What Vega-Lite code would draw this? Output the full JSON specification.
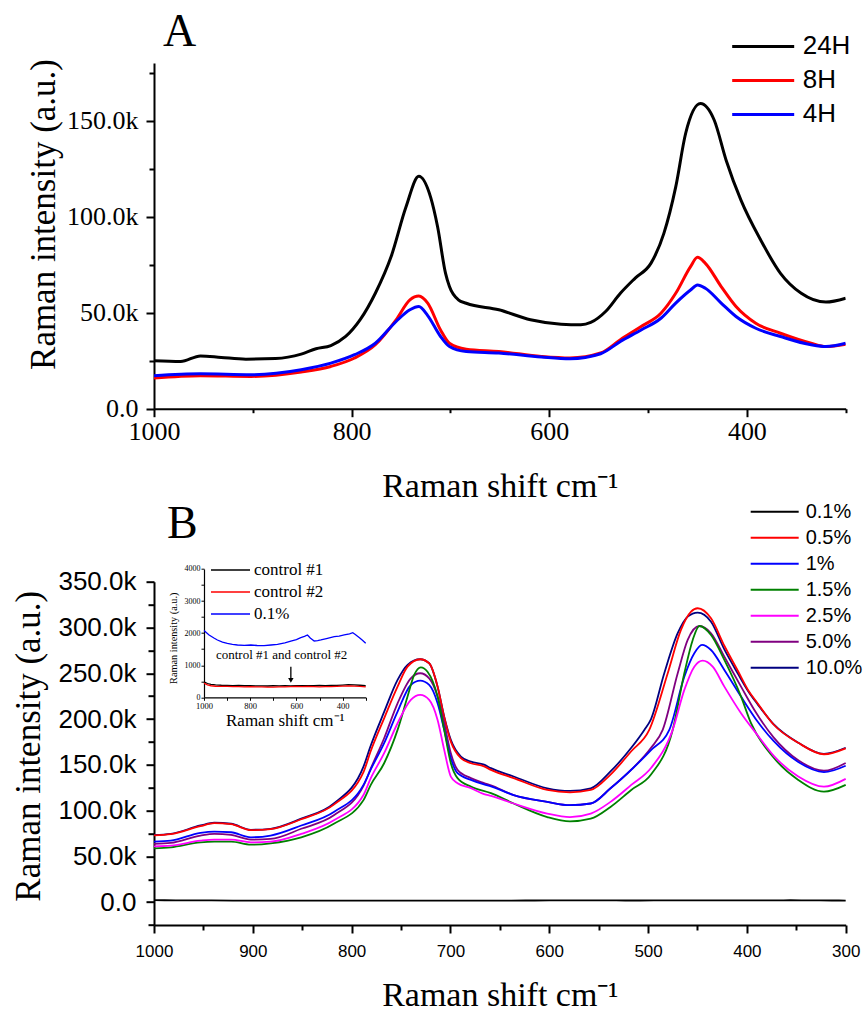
{
  "$schema": "https://vega.github.io/schema/vega-lite/v6.json",
  "background": "white",
  "padding": {"left": 11, "top": 8, "right": 0, "bottom": 0},
  "bounds": "flush",
  "spacing": 172.7,
  "config": {
    "view": {"stroke": null},
    "axis": {"grid": false, "domainColor": "black", "tickColor": "black", "labelColor": "black", "titleColor": "black", "domainWidth": 2, "tickWidth": 2, "titleFontWeight": "normal", "labelFlush": false, "labelOverlap": false, "labelBound": false},
    "legend": {"padding": 0, "rowPadding": 0, "labelColor": "black", "title": null}
  },
  "datasets": {
    "a": [
      {"shift": 1000, "intensity": 25000, "sample": "24H"}, {"shift": 973, "intensity": 24600, "sample": "24H"}, {"shift": 953, "intensity": 27500, "sample": "24H"}, {"shift": 932, "intensity": 26700, "sample": "24H"}, {"shift": 907, "intensity": 25800, "sample": "24H"}, {"shift": 877, "intensity": 26100, "sample": "24H"}, {"shift": 851, "intensity": 28400, "sample": "24H"}, {"shift": 836, "intensity": 31200, "sample": "24H"}, {"shift": 821, "intensity": 32900, "sample": "24H"}, {"shift": 806, "intensity": 37600, "sample": "24H"}, {"shift": 791, "intensity": 46600, "sample": "24H"}, {"shift": 776, "intensity": 60100, "sample": "24H"}, {"shift": 760, "intensity": 79200, "sample": "24H"}, {"shift": 745, "intensity": 105000, "sample": "24H"}, {"shift": 732, "intensity": 121000, "sample": "24H"}, {"shift": 720, "intensity": 110000, "sample": "24H"}, {"shift": 713, "intensity": 94700, "sample": "24H"}, {"shift": 705, "intensity": 70600, "sample": "24H"}, {"shift": 701, "intensity": 63600, "sample": "24H"}, {"shift": 692, "intensity": 56700, "sample": "24H"}, {"shift": 684, "intensity": 54900, "sample": "24H"}, {"shift": 651, "intensity": 51500, "sample": "24H"}, {"shift": 619, "intensity": 46300, "sample": "24H"}, {"shift": 588, "intensity": 44000, "sample": "24H"}, {"shift": 568, "intensity": 43700, "sample": "24H"}, {"shift": 558, "intensity": 44900, "sample": "24H"}, {"shift": 543, "intensity": 50600, "sample": "24H"}, {"shift": 528, "intensity": 60100, "sample": "24H"}, {"shift": 513, "intensity": 68000, "sample": "24H"}, {"shift": 497, "intensity": 75800, "sample": "24H"}, {"shift": 484, "intensity": 91300, "sample": "24H"}, {"shift": 472, "intensity": 115500, "sample": "24H"}, {"shift": 462, "intensity": 143300, "sample": "24H"}, {"shift": 447, "intensity": 158900, "sample": "24H"}, {"shift": 433, "intensity": 150200, "sample": "24H"}, {"shift": 421, "intensity": 129400, "sample": "24H"}, {"shift": 406, "intensity": 108600, "sample": "24H"}, {"shift": 386, "intensity": 87800, "sample": "24H"}, {"shift": 366, "intensity": 70500, "sample": "24H"}, {"shift": 345, "intensity": 60100, "sample": "24H"}, {"shift": 320, "intensity": 55500, "sample": "24H"}, {"shift": 300, "intensity": 57500, "sample": "24H"},
      {"shift": 1000, "intensity": 16000, "sample": "8H"}, {"shift": 953, "intensity": 17200, "sample": "8H"}, {"shift": 902, "intensity": 16800, "sample": "8H"}, {"shift": 851, "intensity": 19100, "sample": "8H"}, {"shift": 821, "intensity": 22000, "sample": "8H"}, {"shift": 797, "intensity": 26400, "sample": "8H"}, {"shift": 776, "intensity": 33300, "sample": "8H"}, {"shift": 755, "intensity": 46300, "sample": "8H"}, {"shift": 741, "intensity": 56700, "sample": "8H"}, {"shift": 732, "intensity": 58700, "sample": "8H"}, {"shift": 723, "intensity": 55000, "sample": "8H"}, {"shift": 710, "intensity": 41000, "sample": "8H"}, {"shift": 701, "intensity": 34100, "sample": "8H"}, {"shift": 684, "intensity": 31000, "sample": "8H"}, {"shift": 651, "intensity": 29800, "sample": "8H"}, {"shift": 608, "intensity": 27200, "sample": "8H"}, {"shift": 579, "intensity": 26400, "sample": "8H"}, {"shift": 548, "intensity": 29000, "sample": "8H"}, {"shift": 528, "intensity": 35900, "sample": "8H"}, {"shift": 507, "intensity": 42800, "sample": "8H"}, {"shift": 487, "intensity": 49700, "sample": "8H"}, {"shift": 472, "intensity": 60100, "sample": "8H"}, {"shift": 457, "intensity": 74000, "sample": "8H"}, {"shift": 450, "intensity": 78800, "sample": "8H"}, {"shift": 442, "intensity": 75700, "sample": "8H"}, {"shift": 426, "intensity": 63600, "sample": "8H"}, {"shift": 411, "intensity": 53200, "sample": "8H"}, {"shift": 391, "intensity": 44500, "sample": "8H"}, {"shift": 366, "intensity": 39300, "sample": "8H"}, {"shift": 335, "intensity": 34100, "sample": "8H"}, {"shift": 320, "intensity": 32400, "sample": "8H"}, {"shift": 300, "intensity": 33600, "sample": "8H"},
      {"shift": 1000, "intensity": 17200, "sample": "4H"}, {"shift": 953, "intensity": 18200, "sample": "4H"}, {"shift": 902, "intensity": 17700, "sample": "4H"}, {"shift": 851, "intensity": 20300, "sample": "4H"}, {"shift": 821, "intensity": 23700, "sample": "4H"}, {"shift": 797, "intensity": 28100, "sample": "4H"}, {"shift": 776, "intensity": 34100, "sample": "4H"}, {"shift": 755, "intensity": 45400, "sample": "4H"}, {"shift": 741, "intensity": 51500, "sample": "4H"}, {"shift": 732, "intensity": 53200, "sample": "4H"}, {"shift": 723, "intensity": 48500, "sample": "4H"}, {"shift": 710, "intensity": 37600, "sample": "4H"}, {"shift": 701, "intensity": 32400, "sample": "4H"}, {"shift": 684, "intensity": 29800, "sample": "4H"}, {"shift": 651, "intensity": 29000, "sample": "4H"}, {"shift": 608, "intensity": 26900, "sample": "4H"}, {"shift": 579, "intensity": 26000, "sample": "4H"}, {"shift": 548, "intensity": 28600, "sample": "4H"}, {"shift": 528, "intensity": 35000, "sample": "4H"}, {"shift": 507, "intensity": 41000, "sample": "4H"}, {"shift": 487, "intensity": 47100, "sample": "4H"}, {"shift": 472, "intensity": 55000, "sample": "4H"}, {"shift": 457, "intensity": 61800, "sample": "4H"}, {"shift": 450, "intensity": 64400, "sample": "4H"}, {"shift": 442, "intensity": 62700, "sample": "4H"}, {"shift": 426, "intensity": 55000, "sample": "4H"}, {"shift": 411, "intensity": 48000, "sample": "4H"}, {"shift": 391, "intensity": 41900, "sample": "4H"}, {"shift": 366, "intensity": 37600, "sample": "4H"}, {"shift": 335, "intensity": 33300, "sample": "4H"}, {"shift": 320, "intensity": 32400, "sample": "4H"}, {"shift": 300, "intensity": 34100, "sample": "4H"}
    ],
    "b": [
      {"shift": 1000, "intensity": 73400, "sample": "10.0%"}, {"shift": 983, "intensity": 74600, "sample": "10.0%"}, {"shift": 953, "intensity": 83700, "sample": "10.0%"}, {"shift": 939, "intensity": 86700, "sample": "10.0%"}, {"shift": 922, "intensity": 85600, "sample": "10.0%"}, {"shift": 902, "intensity": 79000, "sample": "10.0%"}, {"shift": 882, "intensity": 80100, "sample": "10.0%"}, {"shift": 851, "intensity": 91100, "sample": "10.0%"}, {"shift": 818, "intensity": 107700, "sample": "10.0%"}, {"shift": 788, "intensity": 148000, "sample": "10.0%"}, {"shift": 781, "intensity": 170000, "sample": "10.0%"}, {"shift": 767, "intensity": 208000, "sample": "10.0%"}, {"shift": 753.5, "intensity": 242700, "sample": "10.0%"}, {"shift": 743.4, "intensity": 259100, "sample": "10.0%"}, {"shift": 730.6, "intensity": 265300, "sample": "10.0%"}, {"shift": 721.5, "intensity": 260900, "sample": "10.0%"}, {"shift": 713, "intensity": 235400, "sample": "10.0%"}, {"shift": 706.3, "intensity": 202600, "sample": "10.0%"}, {"shift": 699.6, "intensity": 177200, "sample": "10.0%"}, {"shift": 689.4, "intensity": 159000, "sample": "10.0%"}, {"shift": 679.3, "intensity": 153500, "sample": "10.0%"}, {"shift": 666, "intensity": 150100, "sample": "10.0%"}, {"shift": 659, "intensity": 146300, "sample": "10.0%"}, {"shift": 636, "intensity": 137200, "sample": "10.0%"}, {"shift": 602, "intensity": 124300, "sample": "10.0%"}, {"shift": 579, "intensity": 121400, "sample": "10.0%"}, {"shift": 558, "intensity": 124300, "sample": "10.0%"}, {"shift": 538, "intensity": 142700, "sample": "10.0%"}, {"shift": 517, "intensity": 168600, "sample": "10.0%"}, {"shift": 503.8, "intensity": 188100, "sample": "10.0%"}, {"shift": 497, "intensity": 200000, "sample": "10.0%"}, {"shift": 483.6, "intensity": 250000, "sample": "10.0%"}, {"shift": 470, "intensity": 293700, "sample": "10.0%"}, {"shift": 459.9, "intensity": 311800, "sample": "10.0%"}, {"shift": 449.8, "intensity": 316200, "sample": "10.0%"}, {"shift": 436.3, "intensity": 306300, "sample": "10.0%"}, {"shift": 422.8, "intensity": 276000, "sample": "10.0%"}, {"shift": 409.3, "intensity": 250000, "sample": "10.0%"}, {"shift": 399, "intensity": 231000, "sample": "10.0%"}, {"shift": 389, "intensity": 216000, "sample": "10.0%"}, {"shift": 373, "intensity": 194400, "sample": "10.0%"}, {"shift": 348, "intensity": 174100, "sample": "10.0%"}, {"shift": 322, "intensity": 162000, "sample": "10.0%"}, {"shift": 300, "intensity": 168600, "sample": "10.0%"},
      {"shift": 1000, "intensity": 73000, "sample": "0.5%"}, {"shift": 983, "intensity": 74200, "sample": "0.5%"}, {"shift": 953, "intensity": 83000, "sample": "0.5%"}, {"shift": 939, "intensity": 86200, "sample": "0.5%"}, {"shift": 922, "intensity": 85200, "sample": "0.5%"}, {"shift": 902, "intensity": 78600, "sample": "0.5%"}, {"shift": 882, "intensity": 79700, "sample": "0.5%"}, {"shift": 851, "intensity": 90500, "sample": "0.5%"}, {"shift": 818, "intensity": 106500, "sample": "0.5%"}, {"shift": 788, "intensity": 142000, "sample": "0.5%"}, {"shift": 781, "intensity": 164000, "sample": "0.5%"}, {"shift": 767, "intensity": 201000, "sample": "0.5%"}, {"shift": 753.5, "intensity": 235400, "sample": "0.5%"}, {"shift": 743.4, "intensity": 257200, "sample": "0.5%"}, {"shift": 730.6, "intensity": 265300, "sample": "0.5%"}, {"shift": 721.5, "intensity": 260900, "sample": "0.5%"}, {"shift": 713, "intensity": 235400, "sample": "0.5%"}, {"shift": 706.3, "intensity": 202000, "sample": "0.5%"}, {"shift": 699.6, "intensity": 175300, "sample": "0.5%"}, {"shift": 689.4, "intensity": 157200, "sample": "0.5%"}, {"shift": 679.3, "intensity": 151700, "sample": "0.5%"}, {"shift": 666, "intensity": 148300, "sample": "0.5%"}, {"shift": 659, "intensity": 144400, "sample": "0.5%"}, {"shift": 636, "intensity": 135400, "sample": "0.5%"}, {"shift": 602, "intensity": 122500, "sample": "0.5%"}, {"shift": 579, "intensity": 119900, "sample": "0.5%"}, {"shift": 558, "intensity": 122500, "sample": "0.5%"}, {"shift": 538, "intensity": 139300, "sample": "0.5%"}, {"shift": 517, "intensity": 164800, "sample": "0.5%"}, {"shift": 498.8, "intensity": 188100, "sample": "0.5%"}, {"shift": 480.1, "intensity": 250000, "sample": "0.5%"}, {"shift": 466.7, "intensity": 297300, "sample": "0.5%"}, {"shift": 456.5, "intensity": 317200, "sample": "0.5%"}, {"shift": 449.8, "intensity": 321000, "sample": "0.5%"}, {"shift": 436.3, "intensity": 310000, "sample": "0.5%"}, {"shift": 422.8, "intensity": 280000, "sample": "0.5%"}, {"shift": 409.3, "intensity": 253000, "sample": "0.5%"}, {"shift": 399, "intensity": 232000, "sample": "0.5%"}, {"shift": 389, "intensity": 217000, "sample": "0.5%"}, {"shift": 373, "intensity": 194000, "sample": "0.5%"}, {"shift": 348, "intensity": 174000, "sample": "0.5%"}, {"shift": 322, "intensity": 161500, "sample": "0.5%"}, {"shift": 300, "intensity": 168000, "sample": "0.5%"},
      {"shift": 1000, "intensity": 63500, "sample": "5.0%"}, {"shift": 983, "intensity": 64600, "sample": "5.0%"}, {"shift": 953, "intensity": 72700, "sample": "5.0%"}, {"shift": 939, "intensity": 74600, "sample": "5.0%"}, {"shift": 922, "intensity": 73500, "sample": "5.0%"}, {"shift": 902, "intensity": 68300, "sample": "5.0%"}, {"shift": 882, "intensity": 69000, "sample": "5.0%"}, {"shift": 851, "intensity": 80100, "sample": "5.0%"}, {"shift": 818, "intensity": 94800, "sample": "5.0%"}, {"shift": 788, "intensity": 127000, "sample": "5.0%"}, {"shift": 780.6, "intensity": 146000, "sample": "5.0%"}, {"shift": 767.1, "intensity": 179000, "sample": "5.0%"}, {"shift": 753.5, "intensity": 217200, "sample": "5.0%"}, {"shift": 740.1, "intensity": 244500, "sample": "5.0%"}, {"shift": 730.6, "intensity": 250000, "sample": "5.0%"}, {"shift": 721.5, "intensity": 244500, "sample": "5.0%"}, {"shift": 713, "intensity": 224500, "sample": "5.0%"}, {"shift": 706.3, "intensity": 195400, "sample": "5.0%"}, {"shift": 699.6, "intensity": 162700, "sample": "5.0%"}, {"shift": 692.8, "intensity": 144400, "sample": "5.0%"}, {"shift": 679.3, "intensity": 135400, "sample": "5.0%"}, {"shift": 666, "intensity": 130000, "sample": "5.0%"}, {"shift": 659, "intensity": 127500, "sample": "5.0%"}, {"shift": 636, "intensity": 116900, "sample": "5.0%"}, {"shift": 602, "intensity": 109500, "sample": "5.0%"}, {"shift": 579, "intensity": 105900, "sample": "5.0%"}, {"shift": 558, "intensity": 107700, "sample": "5.0%"}, {"shift": 538, "intensity": 124300, "sample": "5.0%"}, {"shift": 517, "intensity": 144600, "sample": "5.0%"}, {"shift": 497, "intensity": 168600, "sample": "5.0%"}, {"shift": 485.2, "intensity": 188100, "sample": "5.0%"}, {"shift": 470, "intensity": 250000, "sample": "5.0%"}, {"shift": 459.9, "intensity": 286400, "sample": "5.0%"}, {"shift": 448.1, "intensity": 301600, "sample": "5.0%"}, {"shift": 436.3, "intensity": 293700, "sample": "5.0%"}, {"shift": 422.8, "intensity": 268100, "sample": "5.0%"}, {"shift": 405.9, "intensity": 235400, "sample": "5.0%"}, {"shift": 392.4, "intensity": 209900, "sample": "5.0%"}, {"shift": 373, "intensity": 180000, "sample": "5.0%"}, {"shift": 348, "intensity": 155000, "sample": "5.0%"}, {"shift": 322, "intensity": 143500, "sample": "5.0%"}, {"shift": 300, "intensity": 152000, "sample": "5.0%"},
      {"shift": 1000, "intensity": 66000, "sample": "1%"}, {"shift": 983, "intensity": 67100, "sample": "1%"}, {"shift": 953, "intensity": 75700, "sample": "1%"}, {"shift": 939, "intensity": 77100, "sample": "1%"}, {"shift": 922, "intensity": 76300, "sample": "1%"}, {"shift": 902, "intensity": 70800, "sample": "1%"}, {"shift": 882, "intensity": 72700, "sample": "1%"}, {"shift": 851, "intensity": 83700, "sample": "1%"}, {"shift": 818, "intensity": 98500, "sample": "1%"}, {"shift": 788, "intensity": 128000, "sample": "1%"}, {"shift": 780.6, "intensity": 145000, "sample": "1%"}, {"shift": 767.1, "intensity": 173600, "sample": "1%"}, {"shift": 753.5, "intensity": 208100, "sample": "1%"}, {"shift": 740.1, "intensity": 237200, "sample": "1%"}, {"shift": 730.6, "intensity": 241900, "sample": "1%"}, {"shift": 721.5, "intensity": 237200, "sample": "1%"}, {"shift": 713, "intensity": 217200, "sample": "1%"}, {"shift": 706.3, "intensity": 188100, "sample": "1%"}, {"shift": 699.6, "intensity": 157200, "sample": "1%"}, {"shift": 692.8, "intensity": 140800, "sample": "1%"}, {"shift": 679.3, "intensity": 133500, "sample": "1%"}, {"shift": 666, "intensity": 128500, "sample": "1%"}, {"shift": 659, "intensity": 126500, "sample": "1%"}, {"shift": 636, "intensity": 116900, "sample": "1%"}, {"shift": 602, "intensity": 109500, "sample": "1%"}, {"shift": 579, "intensity": 105900, "sample": "1%"}, {"shift": 558, "intensity": 107700, "sample": "1%"}, {"shift": 538, "intensity": 124300, "sample": "1%"}, {"shift": 517, "intensity": 144600, "sample": "1%"}, {"shift": 497, "intensity": 166000, "sample": "1%"}, {"shift": 478.5, "intensity": 188100, "sample": "1%"}, {"shift": 463.3, "intensity": 246300, "sample": "1%"}, {"shift": 453.2, "intensity": 271800, "sample": "1%"}, {"shift": 445.4, "intensity": 280900, "sample": "1%"}, {"shift": 436.3, "intensity": 275400, "sample": "1%"}, {"shift": 422.8, "intensity": 253600, "sample": "1%"}, {"shift": 405.9, "intensity": 224500, "sample": "1%"}, {"shift": 389, "intensity": 197000, "sample": "1%"}, {"shift": 373, "intensity": 176000, "sample": "1%"}, {"shift": 348, "intensity": 153000, "sample": "1%"}, {"shift": 322, "intensity": 142000, "sample": "1%"}, {"shift": 300, "intensity": 149000, "sample": "1%"},
      {"shift": 1000, "intensity": 58600, "sample": "1.5%"}, {"shift": 983, "intensity": 59800, "sample": "1.5%"}, {"shift": 953, "intensity": 65300, "sample": "1.5%"}, {"shift": 939, "intensity": 66000, "sample": "1.5%"}, {"shift": 922, "intensity": 66000, "sample": "1.5%"}, {"shift": 902, "intensity": 62700, "sample": "1.5%"}, {"shift": 882, "intensity": 64200, "sample": "1.5%"}, {"shift": 851, "intensity": 70800, "sample": "1.5%"}, {"shift": 818, "intensity": 85600, "sample": "1.5%"}, {"shift": 788, "intensity": 111400, "sample": "1.5%"}, {"shift": 780.6, "intensity": 128100, "sample": "1.5%"}, {"shift": 767.1, "intensity": 151700, "sample": "1.5%"}, {"shift": 753.5, "intensity": 188100, "sample": "1.5%"}, {"shift": 743.4, "intensity": 224500, "sample": "1.5%"}, {"shift": 736.7, "intensity": 248100, "sample": "1.5%"}, {"shift": 730, "intensity": 256500, "sample": "1.5%"}, {"shift": 723.2, "intensity": 251700, "sample": "1.5%"}, {"shift": 713, "intensity": 224500, "sample": "1.5%"}, {"shift": 706.3, "intensity": 188100, "sample": "1.5%"}, {"shift": 699.6, "intensity": 151700, "sample": "1.5%"}, {"shift": 692.8, "intensity": 135400, "sample": "1.5%"}, {"shift": 679.3, "intensity": 126200, "sample": "1.5%"}, {"shift": 659, "intensity": 119000, "sample": "1.5%"}, {"shift": 636, "intensity": 107700, "sample": "1.5%"}, {"shift": 602, "intensity": 92900, "sample": "1.5%"}, {"shift": 579, "intensity": 88200, "sample": "1.5%"}, {"shift": 558, "intensity": 91100, "sample": "1.5%"}, {"shift": 538, "intensity": 104000, "sample": "1.5%"}, {"shift": 517, "intensity": 122500, "sample": "1.5%"}, {"shift": 497, "intensity": 139300, "sample": "1.5%"}, {"shift": 475.1, "intensity": 188100, "sample": "1.5%"}, {"shift": 463.3, "intensity": 250000, "sample": "1.5%"}, {"shift": 454.8, "intensity": 286400, "sample": "1.5%"}, {"shift": 448.1, "intensity": 301600, "sample": "1.5%"}, {"shift": 436.3, "intensity": 291800, "sample": "1.5%"}, {"shift": 422.8, "intensity": 264500, "sample": "1.5%"}, {"shift": 405.9, "intensity": 224500, "sample": "1.5%"}, {"shift": 395.8, "intensity": 195400, "sample": "1.5%"}, {"shift": 373, "intensity": 158000, "sample": "1.5%"}, {"shift": 348, "intensity": 133500, "sample": "1.5%"}, {"shift": 322, "intensity": 120600, "sample": "1.5%"}, {"shift": 300, "intensity": 128000, "sample": "1.5%"},
      {"shift": 1000, "intensity": 60900, "sample": "2.5%"}, {"shift": 983, "intensity": 61600, "sample": "2.5%"}, {"shift": 953, "intensity": 67100, "sample": "2.5%"}, {"shift": 939, "intensity": 68300, "sample": "2.5%"}, {"shift": 922, "intensity": 68300, "sample": "2.5%"}, {"shift": 902, "intensity": 65300, "sample": "2.5%"}, {"shift": 882, "intensity": 66000, "sample": "2.5%"}, {"shift": 851, "intensity": 74500, "sample": "2.5%"}, {"shift": 818, "intensity": 89300, "sample": "2.5%"}, {"shift": 788, "intensity": 117000, "sample": "2.5%"}, {"shift": 780.6, "intensity": 135400, "sample": "2.5%"}, {"shift": 767.1, "intensity": 162700, "sample": "2.5%"}, {"shift": 753.5, "intensity": 195400, "sample": "2.5%"}, {"shift": 740.1, "intensity": 220900, "sample": "2.5%"}, {"shift": 730.6, "intensity": 226300, "sample": "2.5%"}, {"shift": 721.5, "intensity": 220900, "sample": "2.5%"}, {"shift": 713, "intensity": 199000, "sample": "2.5%"}, {"shift": 706.3, "intensity": 166300, "sample": "2.5%"}, {"shift": 699.6, "intensity": 137100, "sample": "2.5%"}, {"shift": 692.8, "intensity": 129900, "sample": "2.5%"}, {"shift": 679.3, "intensity": 124500, "sample": "2.5%"}, {"shift": 666, "intensity": 118000, "sample": "2.5%"}, {"shift": 659, "intensity": 116000, "sample": "2.5%"}, {"shift": 636, "intensity": 107700, "sample": "2.5%"}, {"shift": 602, "intensity": 96700, "sample": "2.5%"}, {"shift": 579, "intensity": 92900, "sample": "2.5%"}, {"shift": 558, "intensity": 96700, "sample": "2.5%"}, {"shift": 538, "intensity": 109500, "sample": "2.5%"}, {"shift": 517, "intensity": 128000, "sample": "2.5%"}, {"shift": 497, "intensity": 146500, "sample": "2.5%"}, {"shift": 475.1, "intensity": 188100, "sample": "2.5%"}, {"shift": 463.3, "intensity": 231800, "sample": "2.5%"}, {"shift": 453.2, "intensity": 257200, "sample": "2.5%"}, {"shift": 444.7, "intensity": 263800, "sample": "2.5%"}, {"shift": 434.6, "intensity": 257200, "sample": "2.5%"}, {"shift": 422.8, "intensity": 235400, "sample": "2.5%"}, {"shift": 405.9, "intensity": 206300, "sample": "2.5%"}, {"shift": 389, "intensity": 182000, "sample": "2.5%"}, {"shift": 373, "intensity": 160000, "sample": "2.5%"}, {"shift": 348, "intensity": 137200, "sample": "2.5%"}, {"shift": 322, "intensity": 126100, "sample": "2.5%"}, {"shift": 300, "intensity": 134600, "sample": "2.5%"},
      {"shift": 1000, "intensity": 2080, "sample": "0.1%"}, {"shift": 978, "intensity": 1943, "sample": "0.1%"}, {"shift": 957, "intensity": 1850, "sample": "0.1%"}, {"shift": 942, "intensity": 1787, "sample": "0.1%"}, {"shift": 920, "intensity": 1720, "sample": "0.1%"}, {"shift": 899, "intensity": 1683, "sample": "0.1%"}, {"shift": 877, "intensity": 1650, "sample": "0.1%"}, {"shift": 855, "intensity": 1631, "sample": "0.1%"}, {"shift": 826, "intensity": 1620, "sample": "0.1%"}, {"shift": 797, "intensity": 1631, "sample": "0.1%"}, {"shift": 770, "intensity": 1615, "sample": "0.1%"}, {"shift": 740, "intensity": 1610, "sample": "0.1%"}, {"shift": 710, "intensity": 1630, "sample": "0.1%"}, {"shift": 682, "intensity": 1652, "sample": "0.1%"}, {"shift": 650, "intensity": 1700, "sample": "0.1%"}, {"shift": 624, "intensity": 1755, "sample": "0.1%"}, {"shift": 600, "intensity": 1800, "sample": "0.1%"}, {"shift": 581, "intensity": 1859, "sample": "0.1%"}, {"shift": 565, "intensity": 1900, "sample": "0.1%"}, {"shift": 552, "intensity": 1943, "sample": "0.1%"}, {"shift": 540, "intensity": 1850, "sample": "0.1%"}, {"shift": 523, "intensity": 1755, "sample": "0.1%"}, {"shift": 508, "intensity": 1770, "sample": "0.1%"}, {"shift": 494, "intensity": 1787, "sample": "0.1%"}, {"shift": 470, "intensity": 1830, "sample": "0.1%"}, {"shift": 436, "intensity": 1890, "sample": "0.1%"}, {"shift": 415, "intensity": 1910, "sample": "0.1%"}, {"shift": 393, "intensity": 1943, "sample": "0.1%"}, {"shift": 370, "intensity": 1980, "sample": "0.1%"}, {"shift": 356, "intensity": 2015, "sample": "0.1%"}, {"shift": 345, "intensity": 1960, "sample": "0.1%"}, {"shift": 327, "intensity": 1859, "sample": "0.1%"}, {"shift": 314, "intensity": 1780, "sample": "0.1%"}, {"shift": 300, "intensity": 1683, "sample": "0.1%"},
      {"shift": 1000, "intensity": 480, "sample": "control #1"}, {"shift": 985, "intensity": 430, "sample": "control #1"}, {"shift": 970, "intensity": 400, "sample": "control #1"}, {"shift": 950, "intensity": 385, "sample": "control #1"}, {"shift": 925, "intensity": 375, "sample": "control #1"}, {"shift": 900, "intensity": 370, "sample": "control #1"}, {"shift": 875, "intensity": 365, "sample": "control #1"}, {"shift": 850, "intensity": 368, "sample": "control #1"}, {"shift": 825, "intensity": 360, "sample": "control #1"}, {"shift": 800, "intensity": 362, "sample": "control #1"}, {"shift": 775, "intensity": 355, "sample": "control #1"}, {"shift": 750, "intensity": 358, "sample": "control #1"}, {"shift": 725, "intensity": 352, "sample": "control #1"}, {"shift": 700, "intensity": 360, "sample": "control #1"}, {"shift": 675, "intensity": 356, "sample": "control #1"}, {"shift": 650, "intensity": 362, "sample": "control #1"}, {"shift": 625, "intensity": 358, "sample": "control #1"}, {"shift": 600, "intensity": 365, "sample": "control #1"}, {"shift": 575, "intensity": 360, "sample": "control #1"}, {"shift": 550, "intensity": 366, "sample": "control #1"}, {"shift": 525, "intensity": 362, "sample": "control #1"}, {"shift": 500, "intensity": 368, "sample": "control #1"}, {"shift": 475, "intensity": 365, "sample": "control #1"}, {"shift": 450, "intensity": 372, "sample": "control #1"}, {"shift": 425, "intensity": 370, "sample": "control #1"}, {"shift": 400, "intensity": 380, "sample": "control #1"}, {"shift": 375, "intensity": 392, "sample": "control #1"}, {"shift": 350, "intensity": 388, "sample": "control #1"}, {"shift": 325, "intensity": 375, "sample": "control #1"}, {"shift": 300, "intensity": 360, "sample": "control #1"},
      {"shift": 1000, "intensity": 440, "sample": "control #2"}, {"shift": 985, "intensity": 390, "sample": "control #2"}, {"shift": 970, "intensity": 360, "sample": "control #2"}, {"shift": 950, "intensity": 345, "sample": "control #2"}, {"shift": 925, "intensity": 340, "sample": "control #2"}, {"shift": 900, "intensity": 338, "sample": "control #2"}, {"shift": 875, "intensity": 332, "sample": "control #2"}, {"shift": 850, "intensity": 335, "sample": "control #2"}, {"shift": 825, "intensity": 328, "sample": "control #2"}, {"shift": 800, "intensity": 330, "sample": "control #2"}, {"shift": 775, "intensity": 325, "sample": "control #2"}, {"shift": 750, "intensity": 322, "sample": "control #2"}, {"shift": 725, "intensity": 318, "sample": "control #2"}, {"shift": 700, "intensity": 315, "sample": "control #2"}, {"shift": 675, "intensity": 322, "sample": "control #2"}, {"shift": 650, "intensity": 328, "sample": "control #2"}, {"shift": 625, "intensity": 335, "sample": "control #2"}, {"shift": 600, "intensity": 338, "sample": "control #2"}, {"shift": 575, "intensity": 332, "sample": "control #2"}, {"shift": 550, "intensity": 336, "sample": "control #2"}, {"shift": 525, "intensity": 330, "sample": "control #2"}, {"shift": 500, "intensity": 326, "sample": "control #2"}, {"shift": 475, "intensity": 330, "sample": "control #2"}, {"shift": 450, "intensity": 334, "sample": "control #2"}, {"shift": 425, "intensity": 340, "sample": "control #2"}, {"shift": 400, "intensity": 348, "sample": "control #2"}, {"shift": 375, "intensity": 352, "sample": "control #2"}, {"shift": 350, "intensity": 350, "sample": "control #2"}, {"shift": 325, "intensity": 340, "sample": "control #2"}, {"shift": 300, "intensity": 322, "sample": "control #2"}
    ],
    "note": [{"shift": 664, "intensity": 1320, "label": "control #1 and control #2"}],
    "arrow": [{"shift": 624, "intensity": 954, "intensity_end": 560}],
    "arrowhead": [{"shift": 624, "intensity": 530}]
  },
  "vconcat": [
    {
      "width": 691.7,
      "height": 345.7,
      "title": {"text": "A", "anchor": "start", "frame": "group", "dx": 9, "offset": -33.5, "fontSize": 46, "font": "Liberation Serif", "fontWeight": "normal", "baseline": "alphabetic", "color": "black"},
      "data": {"name": "a"},
      "mark": {"type": "line", "strokeWidth": 3, "interpolate": "monotone", "clip": true},
      "encoding": {
        "x": {"field": "shift", "type": "quantitative",
          "scale": {"domain": [300, 1000], "reverse": true, "nice": false, "zero": false},
          "axis": {"values": [1000, 900, 800, 700, 600, 500, 400, 300], "format": "d",
            "labelExpr": "datum.value % 200 === 0 ? datum.label : ''",
            "tickSize": {"condition": {"test": "datum.value % 200 === 0", "value": 8}, "value": 4},
            "labelFont": "Liberation Serif", "labelFontSize": 26, "labelPadding": 2,
            "title": "Raman shift cm⁻¹", "titleFont": "Liberation Serif", "titleFontSize": 34, "titleY": 88, "titleBaseline": "alphabetic"}},
        "y": {"field": "intensity", "type": "quantitative",
          "scale": {"domain": [0, 180000], "nice": false},
          "axis": {"values": [0, 25000, 50000, 75000, 100000, 125000, 150000, 175000],
            "labelExpr": "datum.value % 50000 === 0 ? (datum.value === 0 ? '0.0' : format(datum.value / 1000, '.1f') + 'k') : ''",
            "tickSize": {"condition": {"test": "datum.value % 50000 === 0", "value": 8}, "value": 5},
            "labelFont": "Liberation Serif", "labelFontSize": 26, "labelPadding": 8,
            "title": "Raman intensity (a.u.)", "titleFont": "Liberation Serif", "titleFontSize": 35,
            "titleX": -110, "titleY": 151, "titleAngle": -90, "titleBaseline": "middle", "titleAlign": "center"}},
        "color": {"field": "sample", "type": "nominal",
          "scale": {"domain": ["24H", "8H", "4H"], "range": ["#000000", "#ff0000", "#0000ff"]},
          "legend": {"orient": "none", "legendX": 576.7, "legendY": -33.5, "symbolType": "stroke", "symbolSize": 3844, "symbolStrokeWidth": 3,
            "labelFont": "Liberation Sans", "labelFontSize": 26, "labelOffset": 7, "clipHeight": 33.8}},
        "order": {"field": "shift", "sort": "descending"}
      }
    },
    {
      "width": 691.7,
      "height": 343.3,
      "title": {"text": "B", "anchor": "start", "frame": "group", "dx": 13, "offset": -85, "fontSize": 46, "font": "Liberation Serif", "fontWeight": "normal", "baseline": "alphabetic", "color": "black"},
      "layer": [
        {
          "data": {"name": "b"},
          "transform": [{"filter": "datum.sample !== 'control #1' && datum.sample !== 'control #2'"}],
          "mark": {"type": "line", "strokeWidth": 1.8, "interpolate": "monotone"},
          "encoding": {
            "x": {"field": "shift", "type": "quantitative",
              "scale": {"domain": [300, 1000], "reverse": true, "nice": false, "zero": false},
              "axis": {"values": [1000, 950, 900, 850, 800, 750, 700, 650, 600, 550, 500, 450, 400, 350, 300], "format": "d",
                "labelExpr": "datum.value % 100 === 0 ? datum.label : ''",
                "tickSize": {"condition": {"test": "datum.value % 100 === 0", "value": 8}, "value": 5},
                "labelFont": "Liberation Sans", "labelFontSize": 17, "labelPadding": 11,
                "title": "Raman shift cm⁻¹", "titleFont": "Liberation Serif", "titleFontSize": 34, "titleY": 81, "titleBaseline": "alphabetic"}},
            "y": {"field": "intensity", "type": "quantitative",
              "scale": {"domain": [-25000, 350000], "nice": false, "zero": false},
              "axis": {"values": [-25000, 0, 25000, 50000, 75000, 100000, 125000, 150000, 175000, 200000, 225000, 250000, 275000, 300000, 325000, 350000],
                "labelExpr": "datum.value % 50000 === 0 ? (datum.value === 0 ? '0.0' : format(datum.value / 1000, '.1f') + 'k') : ''",
                "tickSize": {"condition": {"test": "datum.value % 50000 === 0", "value": 8}, "value": 6},
                "labelFont": "Liberation Sans", "labelFontSize": 26, "labelPadding": 10,
                "title": "Raman intensity (a.u.)", "titleFont": "Liberation Serif", "titleFontSize": 35,
                "titleX": -125, "titleY": 164, "titleAngle": -90, "titleBaseline": "middle", "titleAlign": "center"}},
            "color": {"field": "sample", "type": "nominal",
              "scale": {"domain": ["0.1%", "0.5%", "1%", "1.5%", "2.5%", "5.0%", "10.0%"], "range": ["#000000", "#ff0000", "#0000ff", "#008000", "#ff00ff", "#800080", "#000080"]},
              "legend": {"orient": "none", "legendX": 595.7, "legendY": -82.9, "symbolType": "stroke", "symbolSize": 2304, "symbolStrokeWidth": 2,
                "labelFont": "Liberation Sans", "labelFontSize": 20, "labelOffset": 6, "clipHeight": 25.8}},
            "order": {"field": "shift", "sort": "descending"}
          }
        },
        {
          "encoding": {
            "x": {"field": "shift", "type": "quantitative",
              "scale": {"domain": [300, 1000], "range": [211.7, 50], "nice": false, "zero": false},
              "axis": {"orient": "bottom", "offset": -227.7, "values": [1000, 900, 800, 700, 600, 500, 400, 300], "format": "d",
                "labelExpr": "datum.value % 200 === 0 ? datum.label : ''",
                "tickSize": 3, "domainWidth": 1.2, "tickWidth": 1,
                "labelFont": "Liberation Serif", "labelFontSize": 8.5, "labelPadding": 1,
                "title": "Raman shift cm⁻¹", "titleFont": "Liberation Serif", "titleFontSize": 17, "titleY": 28, "titleBaseline": "alphabetic"}},
            "y": {"field": "intensity", "type": "quantitative",
              "scale": {"domain": [0, 4000], "range": [115.6, -12.7], "nice": false, "zero": false},
              "axis": {"orient": "left", "offset": -50, "values": [0, 500, 1000, 1500, 2000, 2500, 3000, 3500, 4000], "format": "d",
                "labelExpr": "datum.value % 1000 === 0 ? datum.label : ''",
                "tickSize": 3, "domainWidth": 1.2, "tickWidth": 1,
                "labelFont": "Liberation Serif", "labelFontSize": 8, "labelPadding": 1,
                "title": "Raman intensity (a.u.)", "titleFont": "Liberation Serif", "titleFontSize": 10.3,
                "titleX": -30, "titleY": 56, "titleAngle": -90, "titleBaseline": "middle", "titleAlign": "center"}}
          },
          "layer": [
            {
              "data": {"name": "b"},
              "transform": [{"filter": "datum.sample === 'control #1' || datum.sample === 'control #2' || datum.sample === '0.1%'"}],
              "mark": {"type": "line", "strokeWidth": 1.3, "interpolate": "linear"},
              "encoding": {
                "color": {"field": "sample", "type": "nominal",
                  "scale": {"domain": ["control #1", "control #2", "0.1%"], "range": ["#000000", "#ff0000", "#0000ff"]},
                  "legend": {"orient": "none", "legendX": 56, "legendY": -22.3, "symbolType": "stroke", "symbolSize": 1521, "symbolStrokeWidth": 1.5,
                    "labelFont": "Liberation Serif", "labelFontSize": 17, "labelOffset": 3, "clipHeight": 21.2}},
                "order": {"field": "shift", "sort": "descending"}
              }
            },
            {
              "data": {"name": "note"},
              "mark": {"type": "text", "font": "Liberation Serif", "fontSize": 13, "baseline": "middle", "align": "center", "color": "black"},
              "encoding": {"text": {"field": "label"}}
            },
            {
              "data": {"name": "arrow"},
              "mark": {"type": "rule", "color": "black", "strokeWidth": 1.3},
              "encoding": {"y2": {"field": "intensity_end"}}
            },
            {
              "data": {"name": "arrowhead"},
              "mark": {"type": "point", "shape": "triangle-down", "filled": true, "color": "black", "size": 30, "opacity": 1},
              "encoding": {}
            }
          ]
        }
      ],
      "resolve": {"scale": {"x": "independent", "y": "independent", "color": "independent"}, "axis": {"x": "independent", "y": "independent"}, "legend": {"color": "independent"}}
    }
  ]
}
